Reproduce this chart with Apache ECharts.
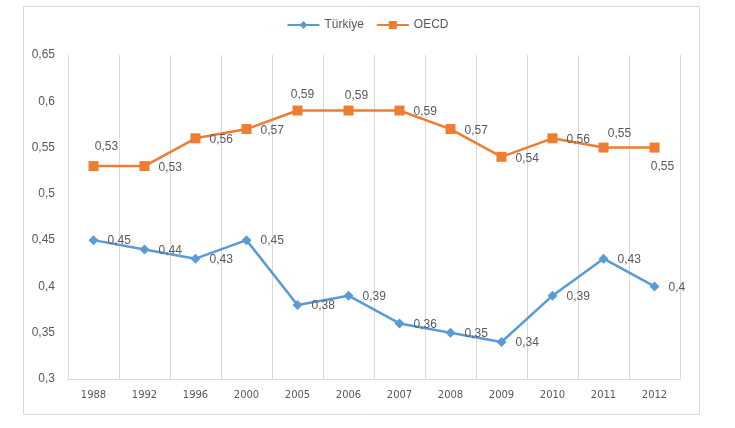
<!DOCTYPE html>
<html>
<head>
<meta charset="utf-8">
<script src="https://cdn.jsdelivr.net/npm/echarts@6/dist/echarts.min.js"></script>
<style>
html,body{margin:0;padding:0;background:#fff;}
#chart{width:735px;height:428px;}
</style>
</head>
<body>
<div id="chart"></div>
<script>
const categories = ['1988','1992','1996','2000','2005','2006','2007','2008','2009','2010','2011','2012'];
const turkiye = [0.45,0.44,0.43,0.45,0.38,0.39,0.36,0.35,0.34,0.39,0.43,0.40];
const oecd = [0.53,0.53,0.56,0.57,0.59,0.59,0.59,0.57,0.54,0.56,0.55,0.55];
const yTicks = [0.3,0.35,0.4,0.45,0.5,0.55,0.6,0.65];

// label placement (style only)
const oecdLabelPlace = [
  {position:'top', offset:[13,-3]},
  {position:'right', offset:[4,2]},
  {position:'right', offset:[4,1]},
  {position:'right', offset:[4,2]},
  {position:'top', offset:[5,0]},
  {position:'top', offset:[8,1]},
  {position:'right', offset:[4,1]},
  {position:'right', offset:[4,2]},
  {position:'right', offset:[4,2]},
  {position:'right', offset:[4,1]},
  {position:'top', offset:[16,2]},
  {position:'bottom', offset:[8,3]}
];
const turLabelPlace = categories.map(()=>({position:'right', offset:[4,1]}));

const fmt = v => String(+v.toFixed(2)).replace('.', ',');
const labelStyle = {color:'#595959', fontSize:12, fontFamily:'Liberation Sans, Arial, sans-serif'};

function buildData(vals, places){
  return vals.map((v,i)=>({
    value:v,
    label:Object.assign({show:true, formatter:p=>fmt(p.value), distance:5}, labelStyle, places[i])
  }));
}

const chart = echarts.init(document.getElementById('chart'));
chart.setOption({
  animation:false,
  backgroundColor:'#fff',
  graphic:[{
    type:'rect', left:21, top:4, silent:true, z:-10,
    shape:{width:676, height:408},
    style:{fill:'none', stroke:'#d9d9d9', lineWidth:1}
  }],
  legend:{
    top:14, left:'center',
    itemWidth:32, itemHeight:10, itemGap:12,
    textStyle:{color:'#595959', fontSize:12, fontFamily:'Liberation Sans, Arial, sans-serif'},
    data:['Türkiye','OECD']
  },
  grid:{left:68, right:55, top:55, bottom:49},
  xAxis:{
    type:'category', data:categories, boundaryGap:true,
    axisLine:{show:true, lineStyle:{color:'#d9d9d9'}},
    axisTick:{show:false},
    splitLine:{show:true, lineStyle:{color:'#d9d9d9'}},
    axisLabel:{color:'#595959', fontSize:10, fontFamily:'DejaVu Sans, sans-serif', margin:11}
  },
  yAxis:{
    type:'value', min:0.3, max:0.65, interval:0.05,
    axisLine:{show:false}, axisTick:{show:false},
    splitLine:{show:false},
    axisLabel:{color:'#595959', fontSize:12, fontFamily:'Liberation Sans, Arial, sans-serif', margin:13,
      formatter:v=>fmt(v)}
  },
  series:[
    {
      name:'Türkiye', type:'line', data:buildData(turkiye, turLabelPlace),
      symbol:'diamond', symbolSize:10,
      lineStyle:{color:'#5B9BD5', width:2.5},
      itemStyle:{color:'#5B9BD5'}
    },
    {
      name:'OECD', type:'line', data:buildData(oecd, oecdLabelPlace),
      symbol:'rect', symbolSize:10,
      lineStyle:{color:'#ED7D31', width:2.5},
      itemStyle:{color:'#ED7D31'}
    }
  ]
});
</script>
</body>
</html>
